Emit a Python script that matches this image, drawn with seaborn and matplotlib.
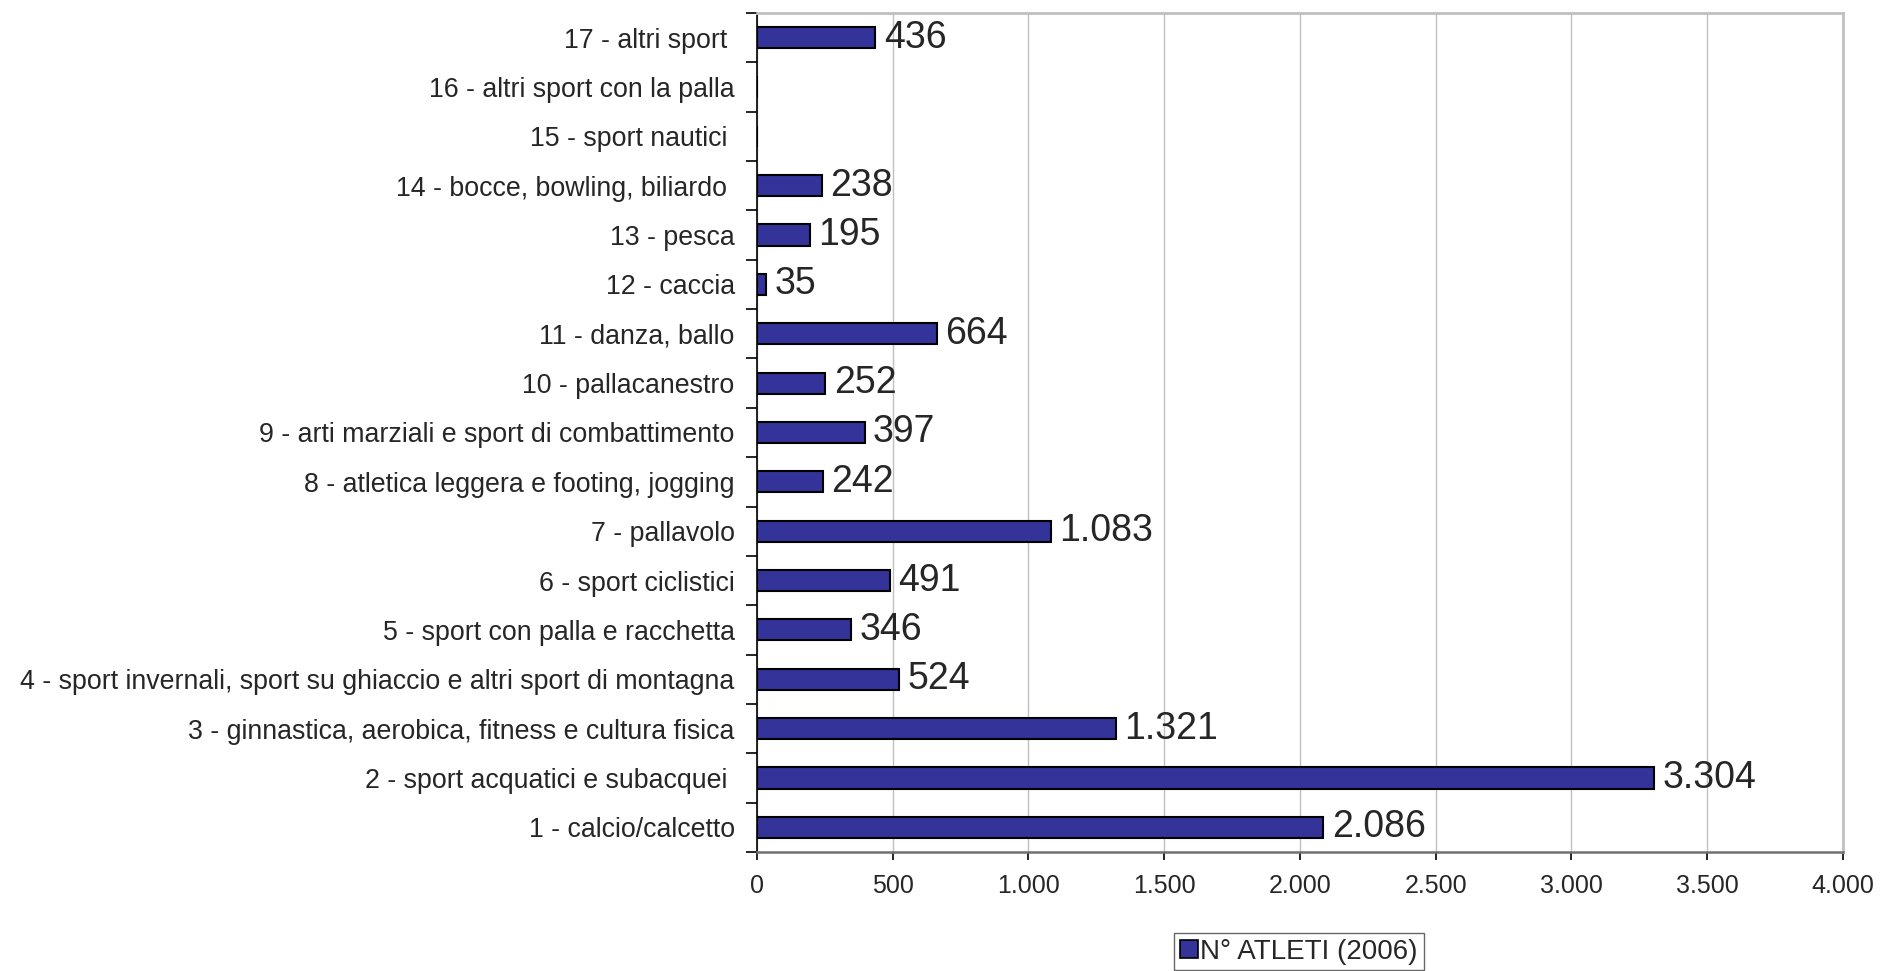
import numpy as np
import pandas as pd
import matplotlib
matplotlib.use('Agg')
import matplotlib.pyplot as plt
from matplotlib.ticker import FuncFormatter, FixedLocator
from matplotlib.patches import Patch
import seaborn as sns

# categories from top to bottom
sports = ['17 - altri sport ', '16 - altri sport con la palla', '15 - sport nautici ',
          '14 - bocce, bowling, biliardo ', '13 - pesca', '12 - caccia', '11 - danza, ballo',
          '10 - pallacanestro', '9 - arti marziali e sport di combattimento',
          '8 - atletica leggera e footing, jogging', '7 - pallavolo', '6 - sport ciclistici',
          '5 - sport con palla e racchetta',
          '4 - sport invernali, sport su ghiaccio e altri sport di montagna',
          '3 - ginnastica, aerobica, fitness e cultura fisica',
          '2 - sport acquatici e subacquei ', '1 - calcio/calcetto']
atleti = [436, 0, 0, 238, 195, 35, 664, 252, 397, 242, 1083, 491, 346, 524, 1321, 3304, 2086]
x_ticks = [0, 500, 1000, 1500, 2000, 2500, 3000, 3500, 4000]
legend_label = 'N° ATLETI (2006)'

df = pd.DataFrame({'sport': sports, 'atleti': atleti})

sns.set_style('white')
plt.rcParams['font.family'] = ['Liberation Sans', 'DejaVu Sans']

bar_col = '#333399'
fig = plt.figure(figsize=(18.81, 9.71), dpi=100)
ax = fig.add_axes([0.4024, 0.1226, 0.5774, 0.864])

sns.barplot(data=df, x='atleti', y='sport', orient='h', color=bar_col, saturation=1,
            width=0.43, edgecolor='black', linewidth=1.5, ax=ax, zorder=3)

def fmt(v, pos=None):
    return f'{int(v):,}'.replace(',', '.')

# no label on empty categories
labels = [fmt(v) if v > 0 else '' for v in atleti]
ax.bar_label(ax.containers[0], labels=labels, padding=6, fontsize=27)

ax.set_xlim(0, 4000)
ax.set_ylim(len(sports) - 0.5, -0.5)
ax.xaxis.set_major_locator(FixedLocator(x_ticks))
ax.xaxis.set_major_formatter(FuncFormatter(fmt))
ax.grid(axis='x', color='#c0c0c0', lw=1, zorder=0)
ax.set_xlabel('')
ax.set_ylabel('')

ax.tick_params(axis='x', which='major', direction='out', length=6, width=1.2,
               color='black', labelsize=18, pad=10, bottom=True)
ax.tick_params(axis='y', which='major', length=0, labelsize=19.3, pad=16)
ax.yaxis.set_minor_locator(FixedLocator(np.arange(-0.5, len(sports), 1)))
ax.tick_params(axis='y', which='minor', direction='out', length=8, width=1.2,
               color='black', left=True)

ax.spines['left'].set_color('black')
ax.spines['left'].set_linewidth(1.2)
ax.spines['bottom'].set_color('#707070')
ax.spines['bottom'].set_linewidth(1.8)
for s in ['top', 'right']:
    ax.spines[s].set_color('#c0c0c0')
    ax.spines[s].set_linewidth(2)

handle = Patch(facecolor=bar_col, edgecolor='black', linewidth=1.2)
fig.legend([handle], [legend_label], loc='upper center', bbox_to_anchor=(0.6905, 0.039),
           fontsize=20, frameon=True, fancybox=False, edgecolor='#404040',
           handlelength=0.65, handleheight=0.65, handletextpad=0.1, borderpad=0.2,
           borderaxespad=0)

fig.savefig('out.png', dpi=100)
